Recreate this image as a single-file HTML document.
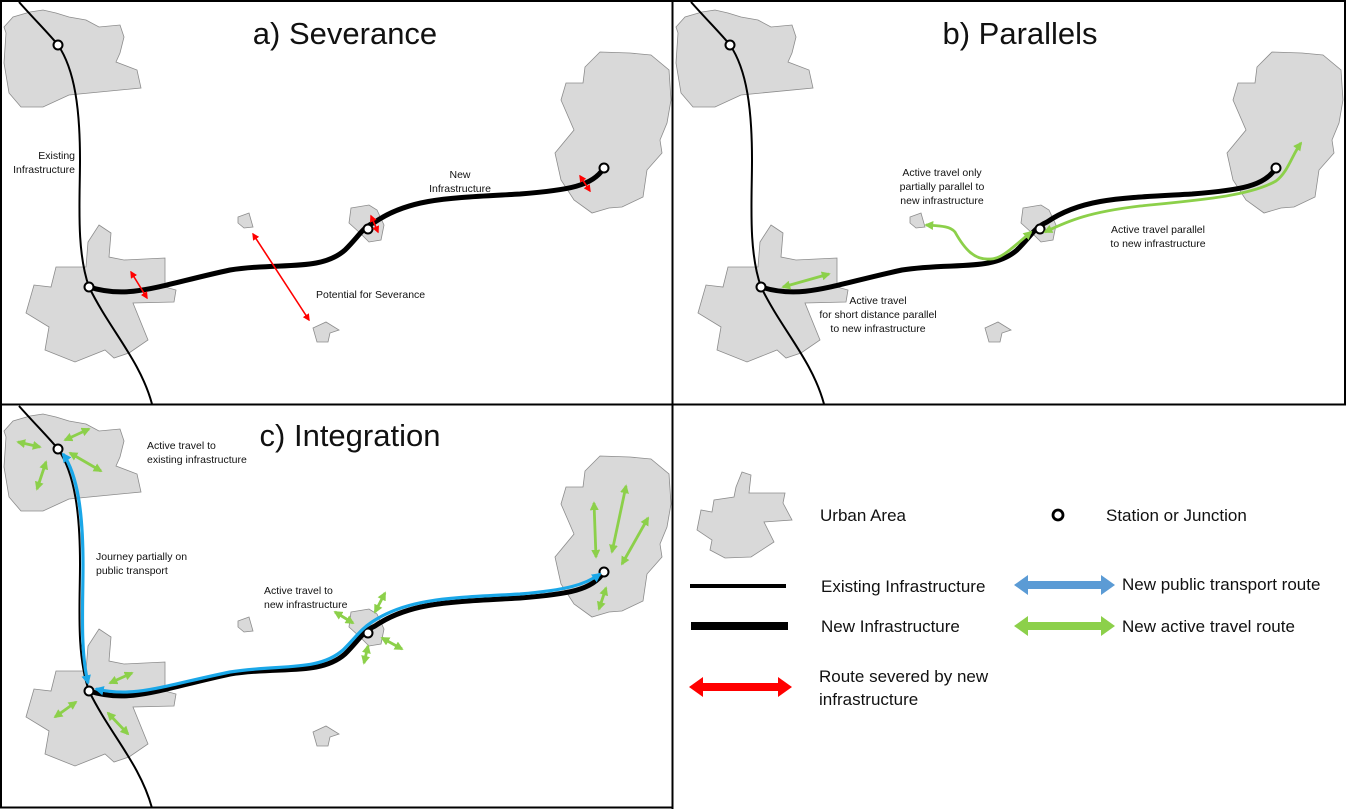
<!DOCTYPE html>
<html><head><meta charset="utf-8"><style>
html,body{margin:0;padding:0;background:#fff;}
svg{display:block;}
text{font-family:"Liberation Sans",sans-serif;fill:#111;}
.s{font-size:10.5px;}
.l{font-size:17px;}
.t{font-size:31px;}
.city{fill:#d9d9d9;stroke:#8c8c8c;stroke-width:0.8;}
</style></head><body>
<svg width="1347" height="809" viewBox="0 0 1347 809" xmlns="http://www.w3.org/2000/svg">
<defs>
<marker id="ar" viewBox="0 0 10 10" refX="8" refY="5" markerWidth="4.5" markerHeight="4.5" orient="auto-start-reverse"><path d="M0,0 L10,5 L0,10 z" fill="#ff0000"/></marker>
<marker id="ag" viewBox="0 0 10 10" refX="8" refY="5" markerWidth="3.2" markerHeight="3.2" orient="auto-start-reverse"><path d="M0,0 L10,5 L0,10 z" fill="#8cd04a"/></marker>
<marker id="ab" viewBox="0 0 10 10" refX="8" refY="5" markerWidth="3" markerHeight="3" orient="auto-start-reverse"><path d="M0,0 L10,5 L0,10 z" fill="#1aa7e8"/></marker>
<g id="cities">
<polygon class="city" points="4,27 13,17 30,12 43,10 56,13 69,17 86,20 99,27 120,25 124,37 120,53 116,62 137,70 141,88 69,95 43,107 21,107 9,93 4,63 6,33"/>
<polygon class="city" points="99,225 111,233 109,257 124,260 165,258 165,287 176,290 174,302 133,303 148,340 129,353 114,358 105,350 75,362 45,350 49,327 26,313 34,285 51,287 56,267 86,267 88,242"/>
<polygon class="city" points="600,52 630,53 651,55 669,70 671,100 667,123 660,140 662,153 647,170 643,197 622,207 609,208 592,213 574,200 561,180 555,153 574,130 561,100 566,83 583,83 585,67"/>
<polygon class="city" points="351,208 369,205 377,210 384,225 381,240 369,242 360,233 349,223"/>
<polygon class="city" points="238,217 249,213 253,227 244,228 238,223"/>
<polygon class="city" points="313,328 326,322 339,330 330,333 328,342 317,342"/>
</g>
<g id="base">
<path d="M19,2 C35,20 50,35 58,45 C75,70 80,110 80,160 C80,200 76,250 89,287 C110,330 140,360 152,404" fill="none" stroke="#000" stroke-width="2"/>
<path d="M89,287 C130,300 160,285 230,270 C280,262 320,272 345,250 C360,235 362,228 375,222 C410,198 450,198 520,194 C570,190 592,186 604,168" fill="none" stroke="#000" stroke-width="5"/>
<circle cx="58" cy="45" r="4.5" fill="#fff" stroke="#000" stroke-width="2"/>
<circle cx="89" cy="287" r="4.5" fill="#fff" stroke="#000" stroke-width="2"/>
<circle cx="368" cy="229" r="4.5" fill="#fff" stroke="#000" stroke-width="2"/>
<circle cx="604" cy="168" r="4.5" fill="#fff" stroke="#000" stroke-width="2"/>
</g>
</defs>

<!-- Panel a -->
<use href="#cities"/>
<use href="#base"/>
<g stroke="#ff0000" stroke-width="1.6" fill="none" marker-start="url(#ar)" marker-end="url(#ar)">
<line x1="131" y1="272" x2="147" y2="298"/>
<line x1="253" y1="234" x2="309" y2="320"/>
<line x1="371" y1="216" x2="378" y2="232"/>
<line x1="580" y1="176" x2="590" y2="191"/>
</g>
<text class="t" x="345" y="44" text-anchor="middle">a) Severance</text>
<text class="s" x="75" y="159" text-anchor="end">Existing</text>
<text class="s" x="75" y="173" text-anchor="end">Infrastructure</text>
<text class="s" x="460" y="178" text-anchor="middle">New</text>
<text class="s" x="460" y="192" text-anchor="middle">Infrastructure</text>
<text class="s" x="316" y="298">Potential for Severance</text>

<!-- Panel b -->
<g transform="translate(672,0)">
<use href="#cities"/>
<use href="#base"/>
</g>
<g stroke="#8cd04a" stroke-width="2.8" fill="none" marker-start="url(#ag)" marker-end="url(#ag)">
<line x1="783" y1="287" x2="829" y2="274"/>
<path d="M1031,232 C1010,250 1000,260 989,259 C975,260 965,250 955,232 C950,226 940,226 926,225"/>
<path d="M1045,232 C1070,220 1090,212 1140,206 C1200,200 1250,196 1276,181 C1288,172 1292,155 1301,143"/>
</g>
<text class="t" x="1020" y="44" text-anchor="middle">b) Parallels</text>
<text class="s" x="942" y="176" text-anchor="middle">Active travel only</text>
<text class="s" x="942" y="190" text-anchor="middle">partially parallel to</text>
<text class="s" x="942" y="204" text-anchor="middle">new infrastructure</text>
<text class="s" x="1158" y="233" text-anchor="middle">Active travel parallel</text>
<text class="s" x="1158" y="247" text-anchor="middle">to new infrastructure</text>
<text class="s" x="878" y="304" text-anchor="middle">Active travel</text>
<text class="s" x="878" y="318" text-anchor="middle">for short distance parallel</text>
<text class="s" x="878" y="332" text-anchor="middle">to new infrastructure</text>

<!-- Panel c -->
<g transform="translate(0,404)">
<use href="#cities"/>
<use href="#base"/>
</g>
<g fill="none" stroke="#1aa7e8" stroke-width="3.2" marker-start="url(#ab)" marker-end="url(#ab)">
<path d="M63,454 C78,475 83,515 83,565 C83,605 80,650 88,683"/>
<path d="M96,689 C135,698 162,686 230,672 C280,664 318,672 343,650 C357,636 360,630 372,622 C408,598 450,598 520,594 C566,590 585,585 600,574"/>
</g>
<g stroke="#8cd04a" stroke-width="2.8" fill="none" marker-start="url(#ag)" marker-end="url(#ag)">
<line x1="18" y1="442" x2="40" y2="447"/>
<line x1="65" y1="440" x2="89" y2="429"/>
<line x1="70" y1="453" x2="101" y2="471"/>
<line x1="46" y1="462" x2="37" y2="489"/>
<line x1="110" y1="683" x2="132" y2="673"/>
<line x1="76" y1="702" x2="55" y2="717"/>
<line x1="108" y1="713" x2="128" y2="734"/>
<line x1="335" y1="612" x2="353" y2="623"/>
<line x1="375" y1="612" x2="385" y2="593"/>
<line x1="382" y1="638" x2="402" y2="649"/>
<line x1="368" y1="646" x2="364" y2="663"/>
<line x1="594" y1="503" x2="596" y2="557"/>
<line x1="626" y1="486" x2="612" y2="552"/>
<line x1="648" y1="518" x2="622" y2="564"/>
<line x1="606" y1="588" x2="599" y2="609"/>
</g>
<text class="t" x="350" y="446" text-anchor="middle">c) Integration</text>
<text class="s" x="147" y="449">Active travel to</text>
<text class="s" x="147" y="463">existing infrastructure</text>
<text class="s" x="96" y="560">Journey partially on</text>
<text class="s" x="96" y="574">public transport</text>
<text class="s" x="264" y="594">Active travel to</text>
<text class="s" x="264" y="608">new infrastructure</text>

<!-- Legend -->
<polygon class="city" points="742,472 751,475 749,493 785,493 783,503 792,520 764,522 774,542 751,557 725,558 710,550 712,540 697,530 701,510 712,512 714,500 734,497 736,487"/>
<text class="l" x="820" y="521">Urban Area</text>
<circle cx="1058" cy="515" r="5" fill="#fff" stroke="#000" stroke-width="2.8"/>
<text class="l" x="1106" y="521">Station or Junction</text>
<line x1="690" y1="586" x2="786" y2="586" stroke="#000" stroke-width="4"/>
<text class="l" x="821" y="592">Existing Infrastructure</text>
<line x1="691" y1="626" x2="788" y2="626" stroke="#000" stroke-width="8"/>
<text class="l" x="821" y="632">New Infrastructure</text>
<polygon points="1014,585 1028,575 1028,581 1101,581 1101,575 1115,585 1101,595 1101,589 1028,589 1028,595" fill="#5b9bd5"/>
<text class="l" x="1122" y="590">New public transport route</text>
<polygon points="1014,626 1028,616 1028,622 1101,622 1101,616 1115,626 1101,636 1101,630 1028,630 1028,636" fill="#8cd04a"/>
<text class="l" x="1122" y="632">New active travel route</text>
<polygon points="689,687 703,677 703,683 778,683 778,677 792,687 778,697 778,691 703,691 703,697" fill="#ff0000"/>
<text class="l" x="819" y="682">Route severed by new</text>
<text class="l" x="819" y="705">infrastructure</text>

<!-- Borders -->
<g stroke="#000" stroke-width="2" fill="none">
<line x1="1" y1="0" x2="1" y2="808"/>
<line x1="0" y1="1" x2="1346" y2="1"/>
<line x1="1345" y1="0" x2="1345" y2="405"/>
<line x1="0" y1="404.5" x2="1346" y2="404.5"/>
<line x1="672.5" y1="0" x2="672.5" y2="809"/>
<line x1="0" y1="807.5" x2="673" y2="807.5"/>
</g>
</svg>
</body></html>
